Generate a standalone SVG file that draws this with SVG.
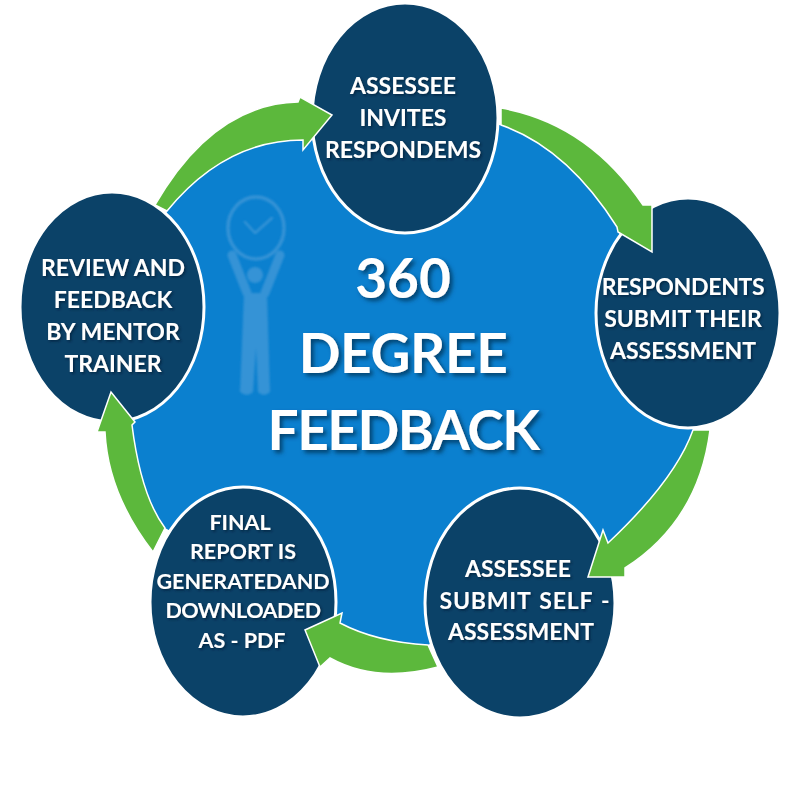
<svg xmlns="http://www.w3.org/2000/svg" width="800" height="800" viewBox="0 0 800 800">
<style>
.node{fill:#0b4268;stroke:#fff;stroke-width:3}
.arrow{fill:#5cb83c;stroke:#fff;stroke-width:1.5;stroke-linejoin:miter}
.lbl{font-family:"Lato","Liberation Sans",sans-serif;font-weight:700;font-size:23px;fill:#fff;text-anchor:middle;filter:url(#sh)}
.sm{font-size:21.5px}
.title{font-size:55px;filter:url(#sh2)}
.fig{fill:none;stroke:#3593d6;stroke-linecap:round;stroke-linejoin:round;filter:url(#soft)}
</style>
<defs>
<filter id="sh" x="-10%" y="-20%" width="120%" height="150%"><feDropShadow dx="1.500" dy="1.500" stdDeviation="1" flood-color="#06233a" flood-opacity=".8"/></filter>
<filter id="sh2" x="-10%" y="-20%" width="120%" height="150%"><feDropShadow dx="3" dy="3" stdDeviation="2" flood-color="#063a60" flood-opacity=".85"/></filter>
<filter id="soft" x="-10%" y="-10%" width="120%" height="120%"><feGaussianBlur stdDeviation="0.800"/></filter>
</defs>
<rect width="800" height="800" fill="#fff"/>
<g id="hub">
<path d="M167 211Q225 140 303 140L501 125Q567 148 617 227L693 430Q675.500 479.500 608 543L428 645Q376 642 340 623L165 528Q141 496 132 425Z" fill="#0b80cf"/>
<g id="figure" class="fig">
<ellipse cx="256" cy="228" rx="28" ry="31" stroke-width="3.500"/>
<path d="M245 222L255 233L272 218" stroke-width="2.500"/>
<path d="M232 255L247 293M280 255L265 293" stroke-width="9"/>
<circle cx="255" cy="275" r="8" fill="#3593d6" stroke="none"/>
<path d="M244 293H267L270 392Q264 398 258 392L256 348L253 392Q247 398 240 392Z" fill="#3593d6" stroke="none"/>
</g>
<text class="lbl title" x="403" y="298">360</text>
<text class="lbl title" x="403" y="373" letter-spacing="-.4">DEGREE</text>
<text class="lbl title" x="403" y="450" letter-spacing="-1.500">FEEDBACK</text>
</g>
<g id="node-top"><ellipse class="node" cx="405" cy="118" rx="93" ry="115"/>
<text class="lbl" x="403" y="94">ASSESSEE</text><text class="lbl" x="403" y="126">INVITES</text><text class="lbl" x="403" y="158">RESPONDEMS</text></g>
<g id="node-right"><ellipse class="node" cx="688" cy="313" rx="92" ry="115"/>
<text class="lbl" x="683" y="295" letter-spacing="-.3">RESPONDENTS</text><text class="lbl" x="683" y="327">SUBMIT THEIR</text><text class="lbl" x="683" y="359">ASSESSMENT</text></g>
<g id="node-bottom-right"><ellipse class="node" cx="520" cy="603" rx="95" ry="115"/>
<text class="lbl" x="518" y="577">ASSESSEE</text><text class="lbl" x="525" y="609" word-spacing="2" letter-spacing=".8">SUBMIT SELF -</text><text class="lbl" x="521" y="640">ASSESSMENT</text></g>
<g id="node-bottom-left"><ellipse class="node" cx="243" cy="602" rx="93" ry="115"/>
<text class="lbl sm" x="240" y="530">FINAL</text><text class="lbl sm" x="243" y="559">REPORT IS</text><text class="lbl sm" x="243" y="589">GENERATEDAND</text><text class="lbl sm" x="243" y="618" letter-spacing="-.5">DOWNLOADED</text><text class="lbl sm" x="242" y="648">AS - PDF</text></g>
<g id="node-left"><ellipse class="node" cx="112" cy="307" rx="92" ry="115"/>
<text class="lbl" x="113" y="276">REVIEW AND</text><text class="lbl" x="113" y="308">FEEDBACK</text><text class="lbl" x="113" y="340">BY MENTOR</text><text class="lbl" x="113" y="372">TRAINER</text></g>
<g id="connectors">
<path class="arrow" d="M155 205Q213 104 298 102L300 97L332 115L303 150L303 140Q225 140 167 211Z"/>
<path class="arrow" d="M501 108Q588 123.500 643 205L652 205L652 252L618 232L617 227Q567 148 501 125Z"/>
<path class="arrow" d="M710 430Q698.500 521 625 568L625 577L588 577L603 530L608 543Q675.500 479.500 693 430Z"/>
<path class="arrow" d="M438 667Q376 683.500 330 658L320 667L305 630L342 613L340 623Q376 642 428 645Z"/>
<path class="arrow" d="M153 552Q108 494 105 432L97 432L111 392L135 422L132 425Q141 496 165 528Z"/>
</g>
</svg>
